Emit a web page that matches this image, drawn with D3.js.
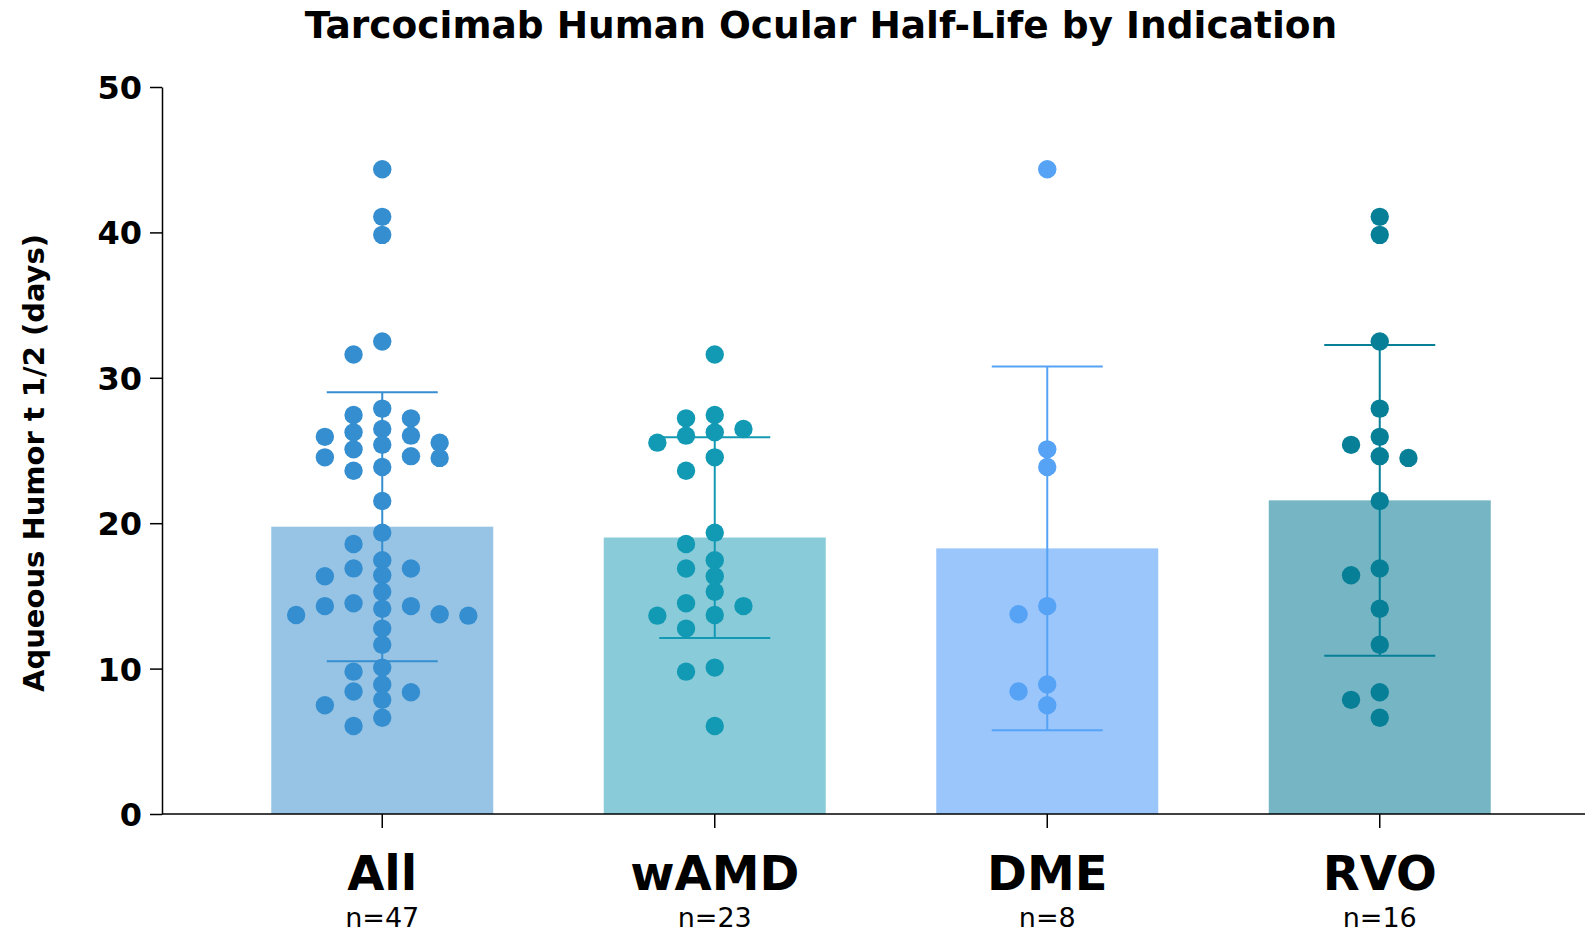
<!DOCTYPE html>
<html lang="en">
<head>
	<meta charset="UTF-8">
	<title>Tarcocimab Human Ocular Half-Life by Indication</title>
	<script src="https://d3js.org/d3.v7.min.js"></script>
	<style>
		body {margin: 0; background: #fff;}
		text {font-family: "DejaVu Sans", sans-serif; fill: #000;}
	</style>
</head>
<body>
	<div id="myDiv"></div>
<script>
	// values
	const categories = ["All", "wAMD", "DME", "RVO"];
	const nLabels = ["n=47", "n=23", "n=8", "n=16"];
	const yTicks = [0, 10, 20, 30, 40, 50];

	const wamdValues = [31.6, 27.44, 27.21, 26.48, 26.25, 26.02, 25.54, 24.53, 23.61, 19.35, 18.57, 17.45,
		16.88, 16.35, 15.29, 14.49, 14.3, 13.69, 13.64, 12.75, 10.07, 9.79, 6.05];
	const dmeValues = [44.34, 25.08, 23.87, 14.3, 13.74, 8.91, 8.43, 7.48];
	const rvoValues = [41.07, 39.83, 32.5, 27.88, 25.94, 25.39, 24.61, 24.49, 21.53, 16.89, 16.42, 14.12,
		11.64, 8.37, 7.85, 6.62];
	// "All" is every patient of the three indications
	const allValues = wamdValues.concat(dmeValues, rvoValues);
	const groupValues = [allValues, wamdValues, dmeValues, rvoValues];

	const barColors = ["#97c4e5", "#89cbd8", "#9ac6fc", "#76b6c4"];
	const dotColors = ["#358ecf", "#129ab4", "#56a3f6", "#067f97"];

	let width = 1585, height = 935;
	let svg = d3.select("#myDiv").append("svg")
		.attr("width", width)
		.attr("height", height);

	let y = d3.scaleLinear().domain([0, 50]).range([814, 87]);
	let x = d3.scaleBand().domain(categories).range([216, 1546]);
	let axisX = 162;

	let barW = 222, capW = 111, dotR = 9.2, colStep = 28.7, minGap = 14.5;

	//Bars
	svg.selectAll("rect.bar")
		.data(categories)
		.enter()
		.append("rect")
			.attr("class", "bar")
			.attr("x", function(d){ return x(d) + x.bandwidth()/2 - barW/2; })
			.attr("y", function(d,i){ return y(d3.mean(groupValues[i])); })
			.attr("width", barW)
			.attr("height", function(d,i){ return y(0) - y(d3.mean(groupValues[i])); })
			.attr("fill", function(d,i){ return barColors[i]; });

	//Error bars (mean +/- SD)
	categories.forEach(function(c, i){
		let cx = x(c) + x.bandwidth()/2;
		let m = d3.mean(groupValues[i]), sd = d3.deviation(groupValues[i]);
		let g = svg.append("g")
			.attr("stroke", dotColors[i])
			.attr("stroke-width", 2);
		g.append("line").attr("x1", cx).attr("x2", cx).attr("y1", y(m + sd)).attr("y2", y(m - sd));
		g.append("line").attr("x1", cx - capW/2).attr("x2", cx + capW/2).attr("y1", y(m + sd)).attr("y2", y(m + sd));
		g.append("line").attr("x1", cx - capW/2).attr("x2", cx + capW/2).attr("y1", y(m - sd)).attr("y2", y(m - sd));
	});

	//Simple grid beeswarm: each point goes to the column nearest the middle that is free
	function swarm(vals){
		let placed = [];
		vals.slice().sort(function(a,b){ return b - a; }).forEach(function(v){
			let py = y(v);
			for (let k = 0; ; k++) {
				let col = k === 0 ? 0 : (k % 2 ? -(k + 1)/2 : k/2);
				let clash = placed.some(function(p){ return p.col === col && Math.abs(p.py - py) < minGap; });
				if (!clash) { placed.push({v: v, py: py, col: col}); break; }
			}
		});
		return placed;
	}

	categories.forEach(function(c, i){
		let cx = x(c) + x.bandwidth()/2;
		svg.append("g").selectAll("circle")
			.data(swarm(groupValues[i]))
			.enter()
			.append("circle")
				.attr("cx", function(d){ return cx + d.col * colStep; })
				.attr("cy", function(d){ return y(d.v); })
				.attr("r", dotR)
				.attr("fill", dotColors[i]);
	});

	//Y axis
	let yAxis = svg.append("g")
		.attr("transform", "translate(" + axisX + ",0)")
		.call(d3.axisLeft(y).tickValues(yTicks).tickSize(12).tickPadding(8).tickSizeOuter(0));
	yAxis.select(".domain").attr("stroke", "#000").attr("stroke-width", 1.5);
	yAxis.selectAll(".tick line").attr("stroke", "#000").attr("stroke-width", 1.5);
	yAxis.selectAll(".tick text")
		.attr("font-family", "DejaVu Sans")
		.attr("font-weight", "bold")
		.attr("font-size", "32px")
		.attr("dy", "0.36em");

	//X axis
	svg.append("line")
		.attr("x1", axisX).attr("x2", width)
		.attr("y1", y(0)).attr("y2", y(0))
		.attr("stroke", "#000").attr("stroke-width", 1.5);

	let xAxis = svg.append("g")
		.attr("transform", "translate(0," + y(0) + ")")
		.call(d3.axisBottom(x).tickSize(14).tickSizeOuter(0).tickFormat(""));
	xAxis.select(".domain").remove();
	xAxis.selectAll(".tick line").attr("stroke", "#000").attr("stroke-width", 1.5);

	svg.selectAll("text.cat")
		.data(categories)
		.enter()
		.append("text")
			.attr("class", "cat")
			.attr("x", function(d){ return x(d) + x.bandwidth()/2; })
			.attr("y", 890)
			.attr("text-anchor", "middle")
			.attr("font-weight", "bold")
			.attr("font-size", "48px")
			.text(function(d){ return d; });

	svg.selectAll("text.nlab")
		.data(nLabels)
		.enter()
		.append("text")
			.attr("class", "nlab")
			.attr("x", function(d,i){ return x(categories[i]) + x.bandwidth()/2; })
			.attr("y", 927)
			.attr("text-anchor", "middle")
			.attr("font-size", "27px")
			.text(function(d){ return d; });

	//Axis title
	svg.append("text")
		.attr("transform", "translate(44,463) rotate(-90)")
		.attr("text-anchor", "middle")
		.attr("font-weight", "bold")
		.attr("font-size", "29px")
		.text("Aqueous Humor t 1/2 (days)");

	//Chart title
	svg.append("text")
		.attr("x", 821)
		.attr("y", 38)
		.attr("text-anchor", "middle")
		.attr("font-weight", "bold")
		.attr("font-size", "37.5px")
		.text("Tarcocimab Human Ocular Half-Life by Indication");
</script>
</body>
</html>
